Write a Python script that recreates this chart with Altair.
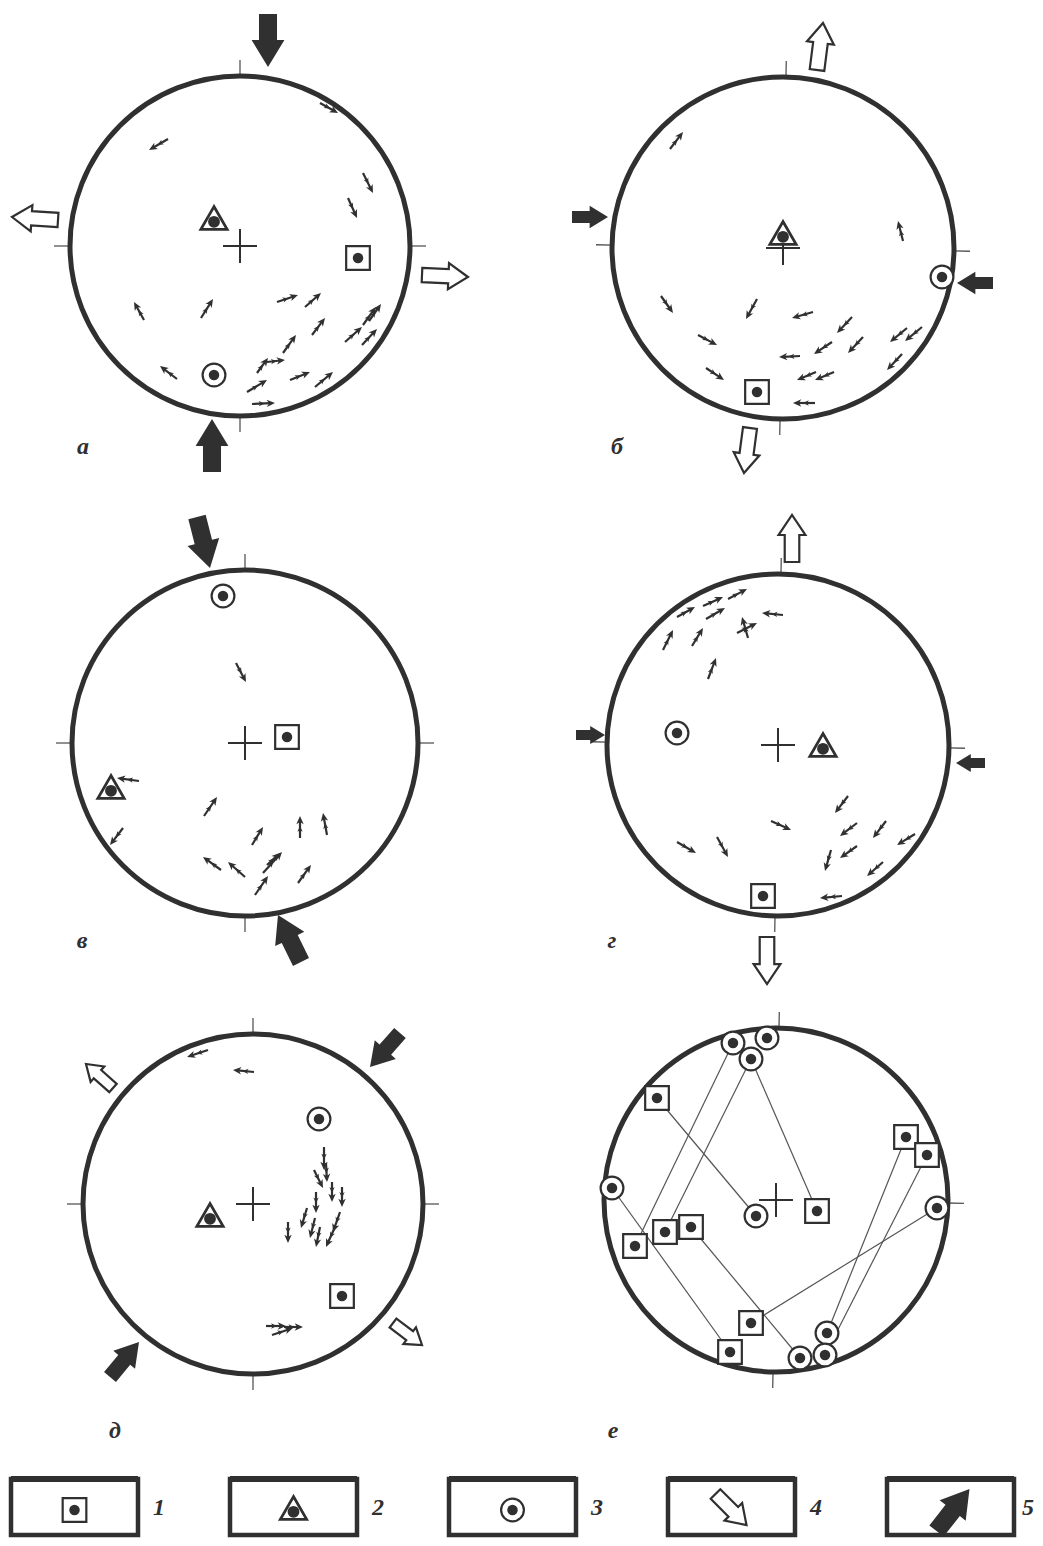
import math
import altair as alt
import pandas as pd

INK = "#303030"
THIN_INK = "#555555"

# ------------------------------------------------------------------ data
PANELS = ["а", "б", "в", "г", "д", "е"]

# structural symbols: "1" square, "2" triangle, "3" circle
# (kind, dx east, dy north) measured from the centre of each net (figure px)
SYMBOLS = {
    "а": [("1", 118, -12), ("2", -26, 28), ("3", -26, -129)],
    "б": [("2", 0, 15), ("3", 159, -29), ("1", -26, -144)],
    "в": [("3", -22, 147), ("1", 42, 6), ("2", -134, -44)],
    "г": [("3", -101, 12), ("2", 45, 0), ("1", -15, -151)],
    "д": [("3", 66, 85), ("2", -43, -11), ("1", 89, -92)],
}

# panel е: paired solutions joined by lines
E_POINTS = {
    "c1": ("3", -43, 157), "c2": ("3", -9, 162), "c3": ("3", -25, 141),
    "c4": ("3", -164, 12), "c5": ("3", -20, -16), "c6": ("3", 161, -8),
    "c7": ("3", 51, -133), "c8": ("3", 24, -158), "c9": ("3", 49, -155),
    "s1": ("1", -119, 102), "s2": ("1", 130, 63), "s3": ("1", 151, 45),
    "s4": ("1", 41, -11), "s5": ("1", -141, -46), "s6": ("1", -111, -32),
    "s7": ("1", -85, -27), "s8": ("1", -25, -123), "s9": ("1", -46, -152),
}
E_LINKS = [("c1", "s5"), ("c3", "s6"), ("c3", "s4"), ("s1", "c5"), ("c4", "s9"),
           ("s7", "c8"), ("s8", "c6"), ("s2", "c7"), ("s3", "c9")]

# slip vectors: (tail dx, tail dy, tip dx, tip dy)
SLIP = {
    "а": [(80, 143, 98, 133), (-72, 107, -91, 96), (123, 73, 133, 53), (108, 48, 117, 28),
          (-96, -74, -106, -56), (-39, -72, -27, -53), (37, -56, 58, -49), (65, -61, 81, -47),
          (72, -89, 85, -72), (43, -107, 56, -89), (105, -96, 122, -81), (122, -99, 137, -83),
          (123, -79, 136, -61), (129, -75, 141, -58), (17, -127, 28, -112), (27, -116, 45, -114),
          (-63, -133, -80, -120), (7, -146, 27, -134), (50, -134, 70, -126), (75, -141, 93, -126),
          (12, -158, 35, -157)],
    "б": [(-113, 99, -100, 116), (120, 7, 115, 27), (-122, -48, -110, -65), (-26, -51, -37, -71),
          (30, -64, 9, -70), (69, -69, 54, -85), (-85, -87, -66, -97), (49, -94, 31, -106),
          (80, -89, 65, -105), (124, -80, 107, -94), (139, -79, 122, -93), (17, -108, -4, -109),
          (119, -106, 104, -122), (-77, -120, -59, -132), (33, -124, 14, -132), (51, -124, 32, -132),
          (32, -155, 10, -155)],
    "в": [(-9, 80, 1, 61), (-106, -38, -128, -35), (-122, -85, -135, -102), (-41, -73, -28, -54),
          (7, -102, 18, -84), (55, -95, 55, -73), (82, -92, 78, -70), (-24, -127, -42, -114),
          (0, -134, -17, -119), (18, -130, 37, -109), (22, -122, 35, -110), (10, -152, 23, -133),
          (53, -140, 66, -122)],
    "г": [(-101, 128, -83, 138), (-75, 139, -55, 148), (-50, 146, -31, 156), (-72, 126, -53, 137),
          (5, 130, -16, 132), (-115, 95, -105, 115), (-86, 99, -75, 117), (-70, 66, -62, 87),
          (-41, 112, -21, 122), (-30, 107, -36, 128), (70, -51, 57, -68), (-7, -76, 13, -85),
          (79, -78, 62, -91), (108, -76, 95, -93), (137, -89, 119, -100), (-101, -97, -82, -108),
          (-61, -92, -50, -112), (79, -101, 62, -113), (53, -105, 47, -126), (105, -117, 89, -131),
          (64, -151, 42, -153)],
    "д": [(-45, 154, -66, 147), (1, 132, -20, 134), (71, 57, 71, 34), (73, 41, 74, 22),
          (61, 34, 70, 16), (79, 22, 79, 2), (89, 17, 89, -3), (63, 12, 63, -9),
          (54, -4, 48, -24), (35, -18, 35, -39), (62, -14, 57, -34), (67, -23, 63, -43),
          (87, -8, 80, -28), (82, -23, 73, -43), (13, -122, 33, -122), (31, -123, 50, -123),
          (19, -131, 40, -124)],
}

# principal stress axes: "4" extension (open arrow), "5" compression (filled arrow)
# (kind, tail dx, tail dy, tip dx, tip dy)
STRESS = {
    "а": [("5", 28, 232, 28, 179), ("5", -28, -226, -28, -173),
          ("4", -182, 26, -228, 29), ("4", 182, -29, 228, -31)],
    "б": [("4", 34, 178, 40, 225), ("4", -33, -180, -39, -225),
          ("5", -211, 31, -175, 31), ("5", 210, -35, 174, -35)],
    "в": [("5", -48, 226, -35, 175), ("5", 56, -219, 33, -172)],
    "г": [("4", 14, 183, 14, 230), ("4", -11, -192, -11, -239),
          ("5", -202, 10, -173, 10), ("5", 207, -18, 178, -18)],
    "д": [("5", 147, 171, 117, 137), ("5", -143, -173, -114, -138),
          ("4", -140, 116, -167, 140), ("4", 140, -119, 169, -141)],
}

# azimuths of the reference ticks and a small rotation of each net
TICK_AZIMUTHS = {"а": [0, 90, 180, 270], "б": [0, 90, 180, 270], "в": [0, 90, 180, 270],
                 "г": [0, 90, 180, 270], "д": [0, 90, 180, 270], "е": [0, 90, 180]}
TICK_ROTATION = {"а": 0, "б": 1, "в": 0, "г": 1, "д": 0, "е": 1}

LEGEND_ITEMS = ["1", "2", "3", "4", "5"]

# ------------------------------------------------------------------ layout
NET_LAYOUT = {  # centre x, centre y, radius of the primitive circle
    "а": (240, 246, 170), "б": (783, 248, 171), "в": (245, 743, 173),
    "г": (778, 745, 171), "д": (253, 1204, 170), "е": (776, 1200, 172),
}
LABEL_POS = {"а": (83, 447), "б": (617, 447), "в": (82, 941),
             "г": (612, 941), "д": (115, 1431), "е": (613, 1431)}
LEG_LEFT0, LEG_STEP, LEG_W, LEG_TOP, LEG_BOTTOM = 11, 219, 127, 1479, 1535
RIGHT_LIMIT = 1028

HEAD = "M0,-1 L0.8,0.8 L0,0.3 L-0.8,0.8 Z"
FILLED_ARROW = "M-0.34,1 L-0.34,0.02 L-0.62,0.02 L0,-1 L0.62,0.02 L0.34,0.02 L0.34,1 Z"
OPEN_ARROW = "M-0.31,1 L-0.31,-0.15 L-0.57,-0.15 L0,-1 L0.57,-0.15 L0.31,-0.15 L0.31,1 Z"


def fig(panel, dx, dy):
    cx, cy, _ = NET_LAYOUT[panel]
    return cx + dx, cy - dy


def azimuth(x0, y0, x1, y1):
    return math.degrees(math.atan2(x1 - x0, -(y1 - y0))) % 360


# ------------------------------------------------------------------ frames
nets, crosses, ticks = [], [], []
for p in PANELS:
    cx, cy, r = NET_LAYOUT[p]
    nets.append({"x": cx, "y": cy, "size": (2 * r) ** 2})
    crosses.append({"x": cx - 17, "x2": cx + 17, "y": cy, "y2": cy})
    crosses.append({"x": cx, "x2": cx, "y": cy - 17, "y2": cy + 17})
    for az in TICK_AZIMUTHS[p]:
        a = math.radians(az + TICK_ROTATION[p])
        ticks.append({"x": cx + (r - 1) * math.sin(a), "y": cy - (r - 1) * math.cos(a),
                      "x2": cx + (r + 16) * math.sin(a), "y2": cy - (r + 16) * math.cos(a)})

symbols = []
for p, items in SYMBOLS.items():
    for kind, dx, dy in items:
        x, y = fig(p, dx, dy)
        symbols.append({"kind": kind, "x": x, "y": y})
for key, (kind, dx, dy) in E_POINTS.items():
    x, y = fig("е", dx, dy)
    symbols.append({"kind": kind, "x": x, "y": y})

links = []
for a, b in E_LINKS:
    xa, ya = fig("е", *E_POINTS[a][1:])
    xb, yb = fig("е", *E_POINTS[b][1:])
    links.append({"x": xa, "y": ya, "x2": xb, "y2": yb})

shafts, heads = [], []
for p, items in SLIP.items():
    for tdx, tdy, pdx, pdy in items:
        tx, ty = fig(p, tdx, tdy)
        px, py = fig(p, pdx, pdy)
        az = azimuth(tx, ty, px, py)
        ux, uy = math.sin(math.radians(az)), -math.cos(math.radians(az))
        hs = 4.6
        hx, hy = px - hs * ux, py - hs * uy
        shafts.append({"x": tx, "y": ty, "x2": hx, "y2": hy})
        heads.append({"x": hx, "y": hy, "angle": az, "size": (2 * hs) ** 2})
        ms = 3.3
        mtx, mty = tx + 0.55 * (px - tx), ty + 0.55 * (py - ty)
        heads.append({"x": mtx - ms * ux, "y": mty - ms * uy, "angle": az, "size": (2 * ms) ** 2})

stress = []


def add_stress(kind, tx, ty, px, py):
    stress.append({"kind": kind, "x": (tx + px) / 2, "y": (ty + py) / 2,
                   "angle": azimuth(tx, ty, px, py),
                   "size": (tx - px) ** 2 + (ty - py) ** 2})


for p, items in STRESS.items():
    for kind, tdx, tdy, pdx, pdy in items:
        tx, ty = fig(p, tdx, tdy)
        px, py = fig(p, pdx, pdy)
        add_stress(kind, tx, ty, px, py)

labels = [{"x": LABEL_POS[p][0], "y": LABEL_POS[p][1], "text": p} for p in PANELS]

legend_boxes, legend_nums = [], []
for i, item in enumerate(LEGEND_ITEMS):
    left = LEG_LEFT0 + LEG_STEP * i
    mx, my = left + LEG_W / 2, (LEG_TOP + LEG_BOTTOM) / 2 + 3
    legend_boxes.append({"x": left, "x2": left + LEG_W, "y": LEG_TOP, "y2": LEG_BOTTOM})
    legend_nums.append({"x": min(left + 148, RIGHT_LIMIT), "y": my - 2, "text": item})
    if item in ("1", "2", "3"):
        symbols.append({"kind": item, "x": mx, "y": my - (2 if item == "2" else 0)})
    elif item == "4":
        add_stress(item, mx - 16, my - 16, mx + 15, my + 15)
    else:
        add_stress(item, mx - 14, my + 21, mx + 19, my - 21)

sym_df = pd.DataFrame(symbols)
stress_df = pd.DataFrame(stress)

# ------------------------------------------------------------------ chart
xs = alt.Scale(domain=[8, 1035], nice=False, zero=False)
ys = alt.Scale(domain=[1538, 8], nice=False, zero=False)
X = alt.X("x:Q", scale=xs, axis=None)
Y = alt.Y("y:Q", scale=ys, axis=None)
X2 = alt.X2("x2:Q")
Y2 = alt.Y2("y2:Q")
ANG = alt.Angle("angle:Q", scale=None)
SIZE = alt.Size("size:Q", scale=None)


def base(rows):
    return alt.Chart(pd.DataFrame(rows))


layers = [
    base(legend_boxes).mark_rect(fill="white", stroke=INK, strokeWidth=4.5).encode(X, Y, X2, Y2),
    base(legend_boxes).mark_rule(color=INK, strokeWidth=6).encode(X, X2, Y),
    base(links).mark_rule(color=THIN_INK, strokeWidth=1.2).encode(X, Y, X2, Y2),
    base(ticks).mark_rule(color=THIN_INK, strokeWidth=1.3).encode(X, Y, X2, Y2),
    base(nets).mark_point(shape="circle", filled=False, stroke=INK, strokeWidth=5,
                          opacity=1).encode(X, Y, SIZE),
    base(crosses).mark_rule(color=INK, strokeWidth=2).encode(X, Y, X2, Y2),
    base(shafts).mark_rule(color=INK, strokeWidth=2.2).encode(X, Y, X2, Y2),
    base(heads).mark_point(shape=HEAD, filled=True, color=INK, opacity=1,
                           strokeWidth=0).encode(X, Y, ANG, SIZE),
    alt.Chart(sym_df[sym_df.kind == "1"]).mark_point(
        shape="square", filled=True, fill="white", stroke=INK, strokeWidth=2.2,
        opacity=1, size=560).encode(X, Y),
    alt.Chart(sym_df[sym_df.kind == "3"]).mark_point(
        shape="circle", filled=True, fill="white", stroke=INK, strokeWidth=2.2,
        opacity=1, size=520).encode(X, Y),
    alt.Chart(sym_df[sym_df.kind == "2"]).mark_point(
        shape="triangle-up", filled=True, fill="white", stroke=INK, strokeWidth=2.8,
        opacity=1, size=690).encode(X, Y),
    alt.Chart(sym_df[sym_df.kind != "2"]).mark_point(
        shape="circle", filled=True, color=INK, opacity=1, size=110).encode(X, Y),
    alt.Chart(sym_df[sym_df.kind == "2"]).mark_point(
        shape="circle", filled=True, color=INK, opacity=1, size=140, yOffset=3.8).encode(X, Y),
    alt.Chart(stress_df[stress_df.kind == "4"]).mark_point(
        shape=OPEN_ARROW, filled=True, fill="white", stroke=INK, strokeWidth=2.2,
        opacity=1).encode(X, Y, ANG, SIZE),
    alt.Chart(stress_df[stress_df.kind == "5"]).mark_point(
        shape=FILLED_ARROW, filled=True, color=INK, opacity=1,
        strokeWidth=0).encode(X, Y, ANG, SIZE),
    base(labels).mark_text(font="Liberation Serif", fontStyle="italic", fontWeight="bold",
                           fontSize=24, color=INK, align="center",
                           baseline="middle").encode(X, Y, text="text:N"),
    base(legend_nums).mark_text(font="Liberation Serif", fontStyle="italic", fontWeight="bold",
                                fontSize=24, color=INK, align="center",
                                baseline="middle").encode(X, Y, text="text:N"),
]

chart = alt.layer(*layers).properties(
    width=1027, height=1530,
    autosize=alt.AutoSizeParams(type="none"),
    padding={"left": 0, "top": 0, "right": 0, "bottom": 0},
).configure_view(stroke=None)

chart.save("out.html", embed_options={"renderer": "svg", "actions": False})
